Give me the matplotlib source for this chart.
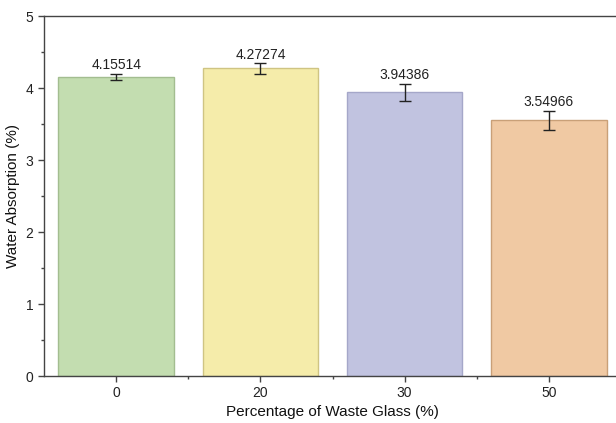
import matplotlib
matplotlib.use("Agg")
import matplotlib.pyplot as plt
from matplotlib.ticker import MultipleLocator

categories = ["0", "20", "30", "50"]
absorption = [4.15514, 4.27274, 3.94386, 3.54966]
errors = [0.045, 0.074, 0.118, 0.134]
fill_colors = ["#c3ddb0", "#f5ecaa", "#c1c3e0", "#f0c9a3"]
edge_colors = ["#a3bd90", "#cfc483", "#a5a7c9", "#c9a078"]

plt.rcParams["font.family"] = ["Liberation Sans", "DejaVu Sans"]

fig = plt.figure(figsize=(6.16, 4.23), dpi=100)
ax = fig.add_axes([44 / 616, 1 - 376 / 423, (621 - 44) / 616, (376 - 16) / 423])

x = list(range(len(categories)))
ax.bar(x, absorption, width=0.8, color=fill_colors, edgecolor=edge_colors,
       linewidth=1.0, zorder=2)
ax.errorbar(x, absorption, yerr=errors, fmt="none", ecolor="#222222",
            elinewidth=1.0, capsize=4, capthick=1.0, zorder=3)

for xi, v, e in zip(x, absorption, errors):
    ax.text(xi, v + e + 0.02, f"{v:g}", ha="center", va="bottom",
            fontsize=10, color="#222222")

ax.set_xlim(-0.5, 3.5)
ax.set_ylim(0, 5)
ax.set_xticks(x)
ax.set_xticklabels(categories)
ax.set_xticks([0.5, 1.5, 2.5], minor=True)
ax.yaxis.set_major_locator(MultipleLocator(1))
ax.yaxis.set_minor_locator(MultipleLocator(0.5))

for side in ("left", "bottom", "top"):
    ax.spines[side].set_color("#444444")
    ax.spines[side].set_linewidth(1.0)
ax.spines["right"].set_visible(False)

ax.tick_params(axis="both", which="major", direction="out", length=4,
               width=1, colors="#444444", labelcolor="#222222", labelsize=10)
ax.tick_params(axis="both", which="minor", direction="out", length=2.5,
               width=1, colors="#444444")

ax.set_xlabel("Percentage of Waste Glass (%)", fontsize=11, color="#111111",
              labelpad=3)
ax.set_ylabel("Water Absorption (%)", fontsize=11, color="#111111",
              labelpad=4)

fig.savefig("out.png", dpi=100)
